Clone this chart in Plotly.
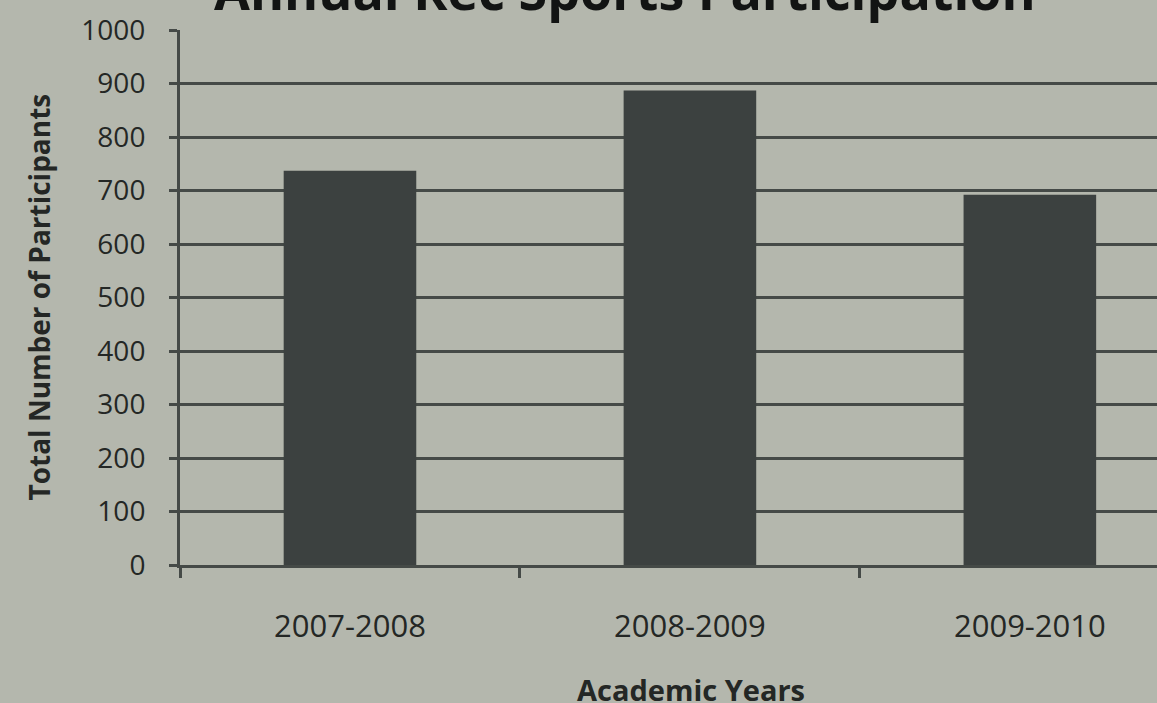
import plotly.graph_objects as go

years = ["2007-2008", "2008-2009", "2009-2010"]
participants = [737, 887, 692]
y_ticks = [0, 100, 200, 300, 400, 500, 600, 700, 800, 900, 1000]

paper = "#b4b7ad"
ink = "#242725"
line_col = "#454a47"
bar_col = "#3c4140"

fig = go.Figure()
fig.add_trace(go.Bar(x=years, y=participants, marker=dict(color=bar_col, line=dict(width=0)),
                     width=0.39, showlegend=False))

fig.update_layout(
    width=1157, height=703,
    margin=dict(l=180, r=0, t=30, b=138),
    paper_bgcolor=paper, plot_bgcolor=paper,
    font=dict(family="Open Sans", color=ink),
    xaxis=dict(
        type="category", range=[-0.5, 2.374],
        showgrid=False, showline=True, linecolor=line_col, linewidth=3,
        ticks="outside", tickson="boundaries", ticklen=10, tickwidth=3, tickcolor=line_col,
        tickfont=dict(size=31, family="Open Sans", color=ink),
        ticklabelstandoff=32,
    ),
    yaxis=dict(
        range=[0, 1000], tickvals=y_ticks,
        showgrid=True, gridcolor=line_col, gridwidth=3,
        showline=True, linecolor=line_col, linewidth=3,
        ticks="outside", ticklen=8, tickwidth=3, tickcolor=line_col,
        tickfont=dict(size=28, family="Open Sans", color=ink),
        ticklabelstandoff=18, zeroline=False,
    ),
    annotations=[
        dict(text="<b>Annual Rec Sports Participation</b>", xref="paper", yref="paper",
             x=(625 - 180) / 977, y=1, xanchor="center", yanchor="middle", yshift=41,
             showarrow=False, font=dict(size=52, family="Open Sans", color="#121413")),
        dict(text="<b>Academic Years</b>", xref="paper", yref="paper",
             x=(691 - 180) / 977, y=0, xanchor="center", yanchor="middle", yshift=-(689 - 565),
             showarrow=False, font=dict(size=29, family="Open Sans", color=ink)),
        dict(text="<b>Total Number of Participants</b>", xref="paper", yref="paper",
             x=0, y=0.5, xanchor="center", yanchor="middle", xshift=-(180 - 38), textangle=-90,
             showarrow=False, font=dict(size=28, family="Open Sans", color=ink)),
    ],
)

fig.write_html("out.html")
